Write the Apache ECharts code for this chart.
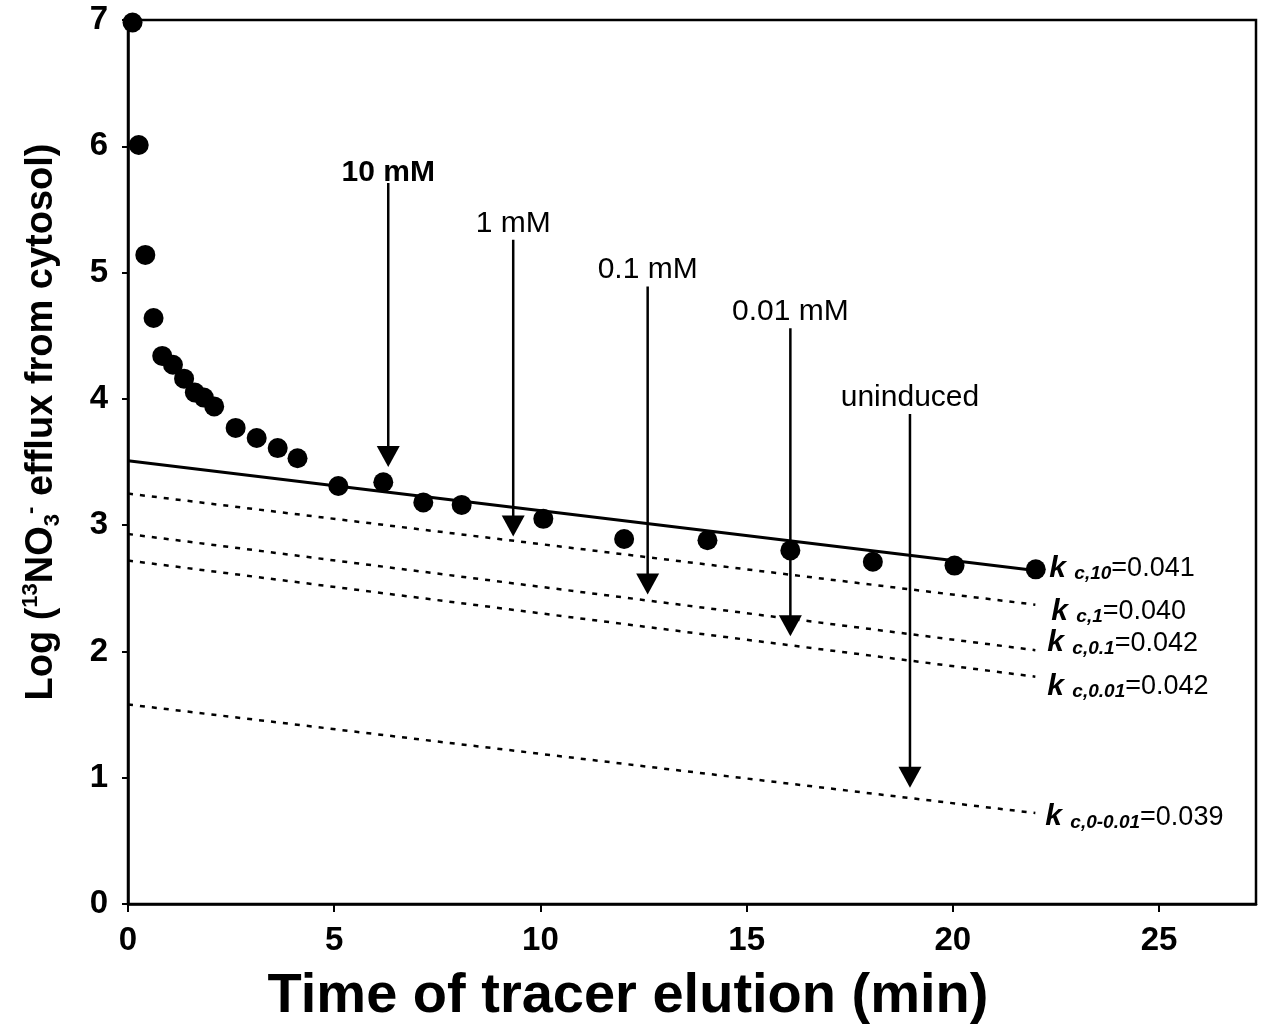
<!DOCTYPE html>
<html>
<head>
<meta charset="utf-8">
<script src="https://cdn.jsdelivr.net/npm/echarts@6/dist/echarts.min.js"></script>
<style>
html,body{margin:0;padding:0;background:#fff;}
#chart{width:1262px;height:1027px;}
</style>
</head>
<body>
<div id="chart"></div>
<script>
// ---- data ----
const timeMin   = [0.11, 0.26, 0.42, 0.62, 0.83, 1.09, 1.36, 1.62, 1.84, 2.09, 2.61, 3.12, 3.63, 4.11, 5.10, 6.19, 7.16, 8.09, 10.07, 12.03, 14.05, 16.06, 18.06, 20.04, 22.01];
const logEfflux = [6.98, 6.01, 5.14, 4.64, 4.34, 4.27, 4.16, 4.05, 4.01, 3.94, 3.77, 3.69, 3.61, 3.53, 3.31, 3.34, 3.18, 3.16, 3.05, 2.89, 2.88, 2.80, 2.71, 2.68, 2.65];

const fitX         = [0, 22];
const fit10mM      = [3.51, 2.64];
const fit1mM       = [3.25, 2.37];
const fit01mM      = [2.93, 2.01];
const fit001mM     = [2.72, 1.80];
const fitUninduced = [1.58, 0.72];

const kSubscripts = ['10', '1', '0.1', '0.01', '0-0.01'];
const kValues     = ['0.041', '0.040', '0.042', '0.042', '0.039'];

const arrowLabels = ['10 mM', '1 mM', '0.1 mM', '0.01 mM', 'uninduced'];
const arrowX      = [6.31, 9.34, 12.60, 16.06, 18.96];
const arrowTop    = [5.71, 5.26, 4.89, 4.56, 3.88];
const arrowTip    = [3.46, 2.91, 2.45, 2.12, 0.92];

const xTicks = [0, 5, 10, 15, 20, 25];

// ---- chart ----
const FONT = "'Liberation Sans', Arial, sans-serif";
const chart = echarts.init(document.getElementById('chart'), null, {renderer: 'canvas'});

const kRich = {
  k:   {fontFamily: FONT, fontSize: 30, fontStyle: 'italic', fontWeight: 'bold', color: '#000', lineHeight: 30},
  sub: {fontFamily: FONT, fontSize: 19, fontStyle: 'italic', fontWeight: 'bold', color: '#000', verticalAlign: 'bottom', lineHeight: 19},
  v:   {fontFamily: FONT, fontSize: 27, color: '#000', lineHeight: 30}
};
function kLabel(i, offset) {
  return {
    show: true,
    formatter: '{k|k }{sub|c,' + kSubscripts[i] + '}{v|=' + kValues[i] + '}',
    rich: kRich,
    offset: offset,
    distance: 0
  };
}

const fitSets = [fit10mM, fit1mM, fit01mM, fit001mM, fitUninduced];
const kOffsets = [[14, -2], [16, 7], [12, -7], [12, 10], [10, 4]];

const series = [];
series.push({
  type: 'scatter',
  data: timeMin.map((t, i) => [t, logEfflux[i]]),
  symbol: 'circle',
  symbolSize: 20,
  itemStyle: {color: '#000', opacity: 1},
  z: 5
});
fitSets.forEach((ys, i) => {
  series.push({
    type: 'line',
    data: fitX.map((x, j) => [x, ys[j]]),
    symbol: 'none',
    lineStyle: i === 0 ? {color: '#000', width: 3} : {color: '#000', width: 2.5, type: [5, 7]},
    endLabel: kLabel(i, kOffsets[i]),
    silent: true,
    z: 3
  });
});
// arrow shafts
arrowLabels.forEach((name, i) => {
  series.push({
    type: 'line',
    data: [[arrowX[i], arrowTop[i]], [arrowX[i], arrowTip[i] + 0.1]],
    symbol: 'none',
    lineStyle: {color: '#000', width: 2.5},
    silent: true,
    z: 4
  });
});
// arrow labels
series.push({
  type: 'scatter',
  data: arrowX.map((x, i) => ({
    value: [x, arrowTop[i]],
    label: {
      show: true, position: 'top', distance: i === 0 ? -5 : 1,
      formatter: arrowLabels[i],
      fontFamily: FONT, fontSize: i === 0 ? 30 : 30,
      fontWeight: i === 0 ? 'bold' : 'normal', color: '#000', opacity: 1
    }
  })),
  symbol: 'circle',
  symbolSize: 1,
  itemStyle: {color: 'rgba(255,255,255,0)', opacity: 1},
  silent: true,
  z: 7
});
// arrow heads
series.push({
  type: 'scatter',
  data: arrowX.map((x, i) => [x, arrowTip[i]]),
  symbol: 'triangle',
  symbolSize: [23, 21],
  symbolRotate: 180,
  symbolOffset: [0, '-50%'],
  itemStyle: {color: '#000', opacity: 1},
  silent: true,
  z: 6
});

chart.setOption({
  animation: false,
  backgroundColor: '#fff',
  grid: {left: 128, right: 6, top: 20, bottom: 123, show: true, borderColor: '#000', borderWidth: 2.5, containLabel: false, outerBoundsMode: 'none'},
  xAxis: {
    type: 'value', min: 0, max: 27.35, interval: 5,
    axisLine: {show: true, onZero: false, lineStyle: {color: '#000', width: 2.5}},
    axisTick: {show: true, length: 8, inside: false, lineStyle: {color: '#000', width: 2}, customValues: xTicks},
    axisLabel: {customValues: xTicks, fontFamily: FONT, fontSize: 33, fontWeight: 'bold', color: '#000', margin: 20},
    splitLine: {show: false},
    name: 'Time of tracer elution (min)',
    nameLocation: 'middle',
    nameGap: 65,
    nameTextStyle: {fontFamily: FONT, fontSize: 56, fontWeight: 'bold', color: '#000', padding: [0, 128, 0, 0]}
  },
  yAxis: {
    type: 'value', min: 0, max: 7, interval: 1,
    axisLine: {show: true, onZero: false, lineStyle: {color: '#000', width: 2.5}},
    axisTick: {show: true, length: 6, inside: false, lineStyle: {color: '#000', width: 2}},
    axisLabel: {fontFamily: FONT, fontSize: 33, fontWeight: 'bold', color: '#000', margin: 20},
    splitLine: {show: false},
    name: '{a|Log (}{sup|13}{a|NO}{sub|3}{sup|-}{a| efflux from cytosol)}',
    nameLocation: 'middle',
    nameGap: 64,
    nameTextStyle: {
      padding: [0, 0, 0, 80],
      rich: {
        a:   {fontFamily: FONT, fontSize: 38, fontWeight: 'bold', color: '#000', lineHeight: 44},
        sup: {fontFamily: FONT, fontSize: 22, fontWeight: 'bold', color: '#000', verticalAlign: 'top', lineHeight: 22},
        sub: {fontFamily: FONT, fontSize: 22, fontWeight: 'bold', color: '#000', verticalAlign: 'bottom', lineHeight: 22}
      }
    }
  },
  series: series
});
</script>
</body>
</html>
